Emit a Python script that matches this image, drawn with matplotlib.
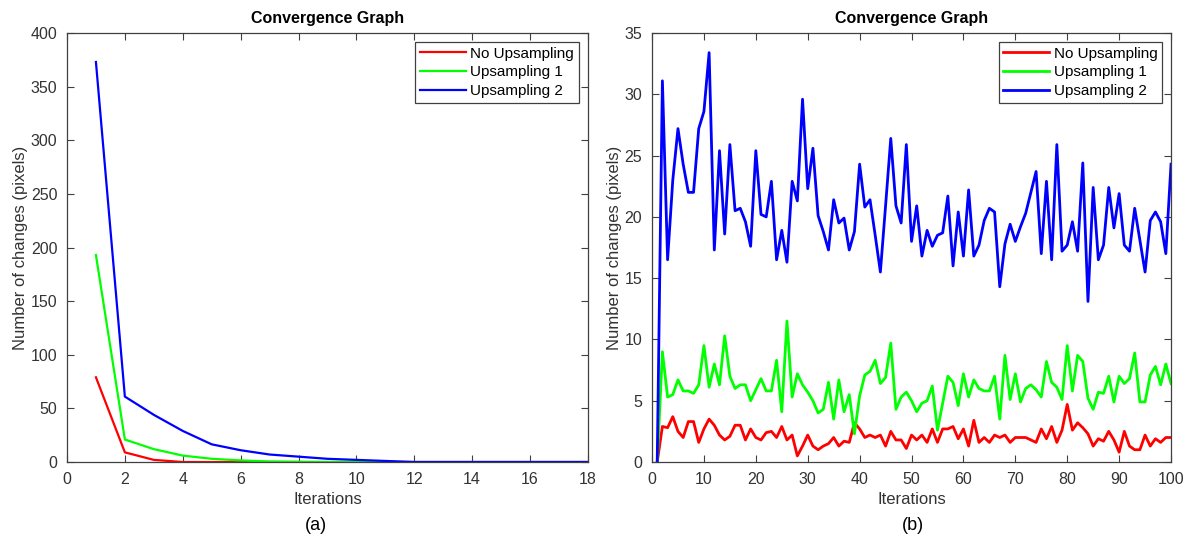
import matplotlib
matplotlib.use("Agg")
import matplotlib.pyplot as plt

plt.rcParams['font.family'] = ['Liberation Sans', 'DejaVu Sans']

# (a) first 18 iterations
iters_a = list(range(1, 19))
none_a = [79, 9, 2, 0, 0, 0, 0, 0, 0, 0, 0, 0, 0, 0, 0, 0, 0, 0]
up1_a = [193, 21, 12, 6, 3, 1.5, 0.5, 0.2, 0, 0, 0, 0, 0, 0, 0, 0, 0, 0]
up2_a = [373, 61, 44, 29, 16.5, 11, 7, 5, 3, 2, 1, 0, 0, 0, 0, 0, 0, 0]

# (b) 100 iterations
iters_b = list(range(1, 101))
none_b = [0, 2.9, 2.8, 3.7, 2.5, 2.0, 3.3, 3.3, 1.6, 2.7,
          3.5, 3.0, 2.2, 1.8, 2.1, 3.0, 3.0, 1.8, 2.7, 2.0,
          1.8, 2.4, 2.5, 2.0, 2.9, 1.8, 2.2, 0.5, 1.3, 2.2,
          1.3, 1.0, 1.3, 1.5, 2.0, 1.3, 1.7, 1.6, 3.2, 2.7,
          2.0, 2.2, 2.0, 2.2, 1.3, 2.5, 1.8, 1.8, 1.1, 2.2,
          1.8, 2.2, 1.6, 2.7, 1.6, 2.7, 2.7, 2.9, 1.9, 2.7,
          1.3, 3.4, 1.6, 2.0, 1.6, 2.2, 2.0, 2.2, 1.6, 2.0,
          2.0, 2.0, 1.8, 1.6, 2.7, 1.9, 2.9, 1.6, 2.6, 4.7,
          2.6, 3.2, 2.8, 2.3, 1.3, 1.9, 1.7, 2.5, 1.8, 0.8,
          2.5, 1.3, 1.0, 1.0, 2.2, 1.3, 1.9, 1.6, 2.0, 2.0]
up1_b = [0, 9.0, 5.3, 5.5, 6.7, 5.8, 5.8, 5.6, 6.3, 9.5,
         6.1, 8.0, 6.3, 10.3, 7.0, 6.0, 6.3, 6.3, 5.0, 5.9,
         6.8, 5.8, 5.8, 8.3, 4.1, 11.5, 5.3, 7.2, 6.3, 5.7,
         5.0, 4.0, 4.3, 6.5, 3.5, 6.7, 4.1, 5.5, 2.3, 5.4,
         7.1, 7.4, 8.3, 6.4, 6.9, 9.7, 4.3, 5.3, 5.7, 5.0,
         4.1, 4.8, 5.0, 6.2, 2.6, 4.8, 7.0, 6.5, 4.6, 7.2,
         5.3, 6.7, 6.0, 5.8, 5.8, 7.0, 3.5, 8.7, 5.1, 7.2,
         4.9, 6.0, 6.3, 5.9, 5.3, 8.2, 6.5, 6.1, 5.1, 9.5,
         5.8, 8.7, 8.2, 5.2, 4.3, 5.7, 5.6, 7.0, 4.9, 7.0,
         6.4, 6.8, 8.9, 4.9, 4.9, 7.1, 7.8, 6.3, 8.0, 6.4]
up2_b = [0, 31.1, 16.5, 23.0, 27.2, 24.3, 22.0, 22.0, 27.2, 28.6,
         33.4, 17.3, 25.4, 18.6, 25.9, 20.5, 20.7, 19.6, 17.6, 25.4,
         20.2, 20.0, 22.9, 16.5, 18.9, 16.3, 22.9, 21.3, 29.6, 22.3,
         25.6, 20.1, 18.8, 17.3, 21.4, 19.5, 19.9, 17.3, 18.8, 24.3,
         20.8, 21.4, 18.5, 15.5, 20.9, 26.4, 20.9, 19.5, 25.9, 18.0,
         20.9, 16.8, 18.9, 17.6, 18.5, 18.7, 21.7, 16.0, 20.4, 16.8,
         22.2, 16.8, 17.7, 19.7, 20.7, 20.4, 14.3, 17.8, 19.4, 18.0,
         19.2, 20.3, 22.0, 23.7, 17.0, 22.9, 16.5, 25.9, 17.2, 17.7,
         19.6, 17.2, 24.4, 13.1, 22.4, 16.5, 17.7, 22.4, 19.1, 21.9,
         17.7, 17.2, 20.7, 18.1, 15.5, 19.7, 20.4, 19.6, 17.0, 24.3]

labels = ["No Upsampling", "Upsampling 1", "Upsampling 2"]
colors = ["#ff0000", "#00ff00", "#0000ff"]

fig = plt.figure(figsize=(11.92, 5.44), dpi=100)
ax1 = fig.add_axes([0.0562, 0.1507, 0.437, 0.7886])
ax2 = fig.add_axes([0.547, 0.1507, 0.4354, 0.7886])


def style_axes(ax):
    for s in ax.spines.values():
        s.set_color("#404040")
        s.set_linewidth(0.9)
    ax.tick_params(direction="in", top=True, right=True, length=5, pad=7,
                   color="#404040", labelcolor="#333333", labelsize=11.5)
    ax.set_title("Convergence Graph", fontsize=11.5, fontweight="bold", pad=7)
    ax.set_xlabel("Iterations", fontsize=12, color="#333333", labelpad=4)
    ax.set_ylabel("Number of changes (pixels)", fontsize=12, color="#333333", labelpad=2)


for ys, lab, c in zip([none_a, up1_a, up2_a], labels, colors):
    ax1.plot(iters_a, ys, color=c, lw=1.6, label=lab)
ax1.set_xlim(0, 18)
ax1.set_ylim(0, 400)
ax1.set_xticks(range(0, 19, 2))
ax1.set_yticks(range(0, 401, 50))
style_axes(ax1)

for ys, lab, c in zip([none_b, up1_b, up2_b], labels, colors):
    ax2.plot(iters_b, ys, color=c, lw=2.0, label=lab)
ax2.set_xlim(0, 100)
ax2.set_ylim(0, 35)
ax2.set_xticks(range(0, 101, 10))
ax2.set_yticks(range(0, 36, 5))
style_axes(ax2)

for ax in (ax1, ax2):
    leg = ax.legend(loc="upper right", fontsize=11, fancybox=False, framealpha=1,
                    edgecolor="#404040", borderaxespad=0.6, handlelength=3.0,
                    handletextpad=0.3, labelspacing=0.3, borderpad=0.3)
    leg.get_frame().set_linewidth(0.9)

fig.text(0.265, 0.025, "(a)", ha="center", fontsize=13)
fig.text(0.766, 0.025, "(b)", ha="center", fontsize=13)

fig.savefig("out.png", dpi=100, facecolor="white")
